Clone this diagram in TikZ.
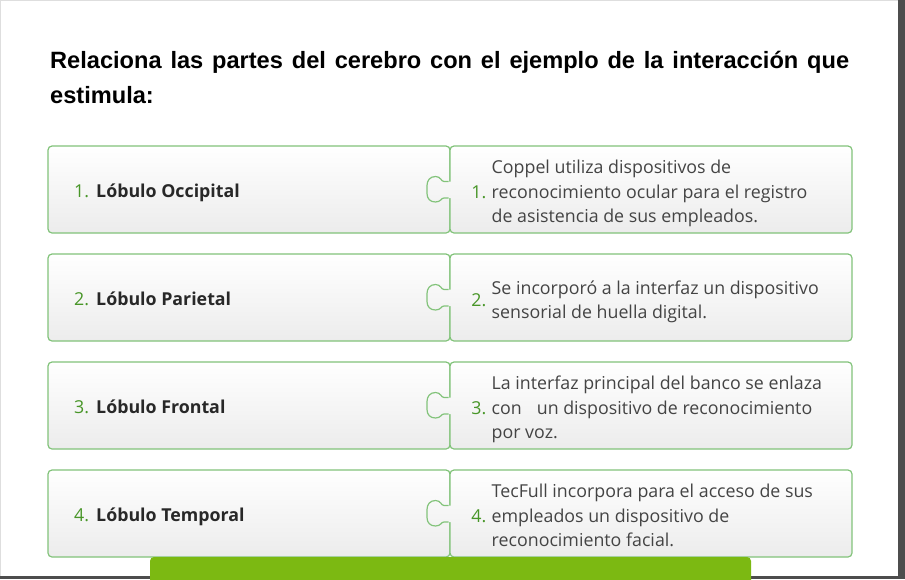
\documentclass[tikz,border=0pt]{standalone}
\usepackage{fontspec}
\setmainfont{Open Sans}
\newfontfamily\titlefont{Liberation Sans}
\usepackage{tikz}
\usetikzlibrary{positioning}
\definecolor{CardLine}{RGB}{130,195,122}
\definecolor{CardBottom}{RGB}{236,236,236}
\definecolor{NumGreen}{RGB}{72,150,40}
\definecolor{BarGreen}{RGB}{124,185,18}
\definecolor{TextGray}{RGB}{68,68,68}
\definecolor{LabelDark}{RGB}{40,40,40}
\definecolor{FrameDark}{RGB}{77,77,77}
\definecolor{FrameLight}{RGB}{222,222,222}

% puzzle knob of the right card, #1 = row centre
\newcommand{\puzzleknob}[1]{%
  \begin{scope}
    \clip (452,#1-8) -- (444,#1-8) .. controls (441,#1-8) and (441,#1-13) .. (435.5,#1-13)
      .. controls (430,#1-13) and (427,#1-9) .. (427,#1-4) -- (427,#1+4)
      .. controls (427,#1+9) and (430,#1+12.5) .. (435.5,#1+12.5)
      .. controls (441,#1+12.5) and (441,#1+8.5) .. (444,#1+8.5) -- (452,#1+8.5) -- cycle;
    \shade[top color=white,bottom color=CardBottom] (420,#1-43.5) rectangle (456,#1+43.5);
  \end{scope}
  \draw[knob] (448.5,#1-8) -- (444,#1-8) .. controls (441,#1-8) and (441,#1-13) .. (435.5,#1-13)
      .. controls (430,#1-13) and (427,#1-9) .. (427,#1-4) -- (427,#1+4)
      .. controls (427,#1+9) and (430,#1+12.5) .. (435.5,#1+12.5)
      .. controls (441,#1+12.5) and (441,#1+8.5) .. (444,#1+8.5) -- (448.5,#1+8.5);
}

\begin{document}
\begin{tikzpicture}[x=1pt,y=-1pt,
  card/.style={draw=CardLine,line width=1.2pt,rounded corners=4pt,top color=white,bottom color=CardBottom},
  knob/.style={draw=CardLine,line width=1.2pt},
  numl/.style={inner sep=0pt,anchor=base west,text=NumGreen,font=\fontsize{17.8}{24.4}\selectfont},
  numr/.style={inner sep=0pt,anchor=base east,text=NumGreen,font=\fontsize{17.8}{24.4}\selectfont},
  lbl/.style={inner sep=0pt,anchor=base west,text=LabelDark,font=\fontsize{17.8}{24.4}\selectfont\bfseries},
  desc/.style={inner sep=0pt,anchor=base west,align=left,text=TextGray,font=\fontsize{17.8}{24.4}\selectfont}
]
  \useasboundingbox (0,0) rectangle (905,579);
  \fill[white] (0,0) rectangle (905,579);
  \fill[FrameLight] (0,0) rectangle (898,1.2);
  \fill[FrameLight] (0,0) rectangle (1.2,579);
  \fill[FrameDark] (898,0) rectangle (905,579);
  \fill[FrameDark] (0,576) rectangle (905,579);

  \node[inner sep=0pt,anchor=base west,text width=799pt,align=justify,
        font=\titlefont\bfseries\fontsize{23.6}{35}\selectfont] (title) at (50,68.8)
    {Relaciona las partes del cerebro con el ejemplo de la interacción que\linebreak estimula:};

  % row 1
  \draw[card] (48,146) rectangle (450,233);
  \draw[card] (450,146) rectangle (852,233);
  \puzzleknob{189.5}
  \node[numl] (nl1) at (74,197.5) {1.};
  \node[lbl] (ll1) at (96,197.5) {Lóbulo Occipital};
  \node[numr] (nr1) at (486.5,198.2) {1.};
  \node[desc] (dr1) at (491.5,222.6) {Coppel utiliza dispositivos de\\reconocimiento ocular para el registro\\de asistencia de sus empleados.};

  % row 2
  \draw[card] (48,254) rectangle (450,341);
  \draw[card] (450,254) rectangle (852,341);
  \puzzleknob{297.5}
  \node[numl] (nl2) at (74,305.5) {2.};
  \node[lbl] (ll2) at (96,305.5) {Lóbulo Parietal};
  \node[numr] (nr2) at (486.5,306.2) {2.};
  \node[desc] (dr2) at (491.5,318.4) {Se incorporó a la interfaz un dispositivo\\sensorial de huella digital.};

  % row 3
  \draw[card] (48,362) rectangle (450,449);
  \draw[card] (450,362) rectangle (852,449);
  \puzzleknob{405.5}
  \node[numl] (nl3) at (74,413.5) {3.};
  \node[lbl] (ll3) at (96,413.5) {Lóbulo Frontal};
  \node[numr] (nr3) at (486.5,414.2) {3.};
  \node[desc] (dr3) at (491.5,438.6) {La interfaz principal del banco se enlaza\\con\hspace{15pt}un dispositivo de reconocimiento\\por voz.};

  % row 4
  \draw[card] (48,470) rectangle (450,557);
  \draw[card] (450,470) rectangle (852,557);
  \puzzleknob{513.5}
  \node[numl] (nl4) at (74,521.5) {4.};
  \node[lbl] (ll4) at (96,521.5) {Lóbulo Temporal};
  \node[numr] (nr4) at (486.5,522.2) {4.};
  \node[desc] (dr4) at (491.5,546.6) {TecFull incorpora para el acceso de sus\\empleados un dispositivo de\\reconocimiento facial.};

  \fill[BarGreen,rounded corners=4pt] (150,557) -- (751,557) -- (751,590) -- (150,590) -- cycle;
\end{tikzpicture}
\end{document}
